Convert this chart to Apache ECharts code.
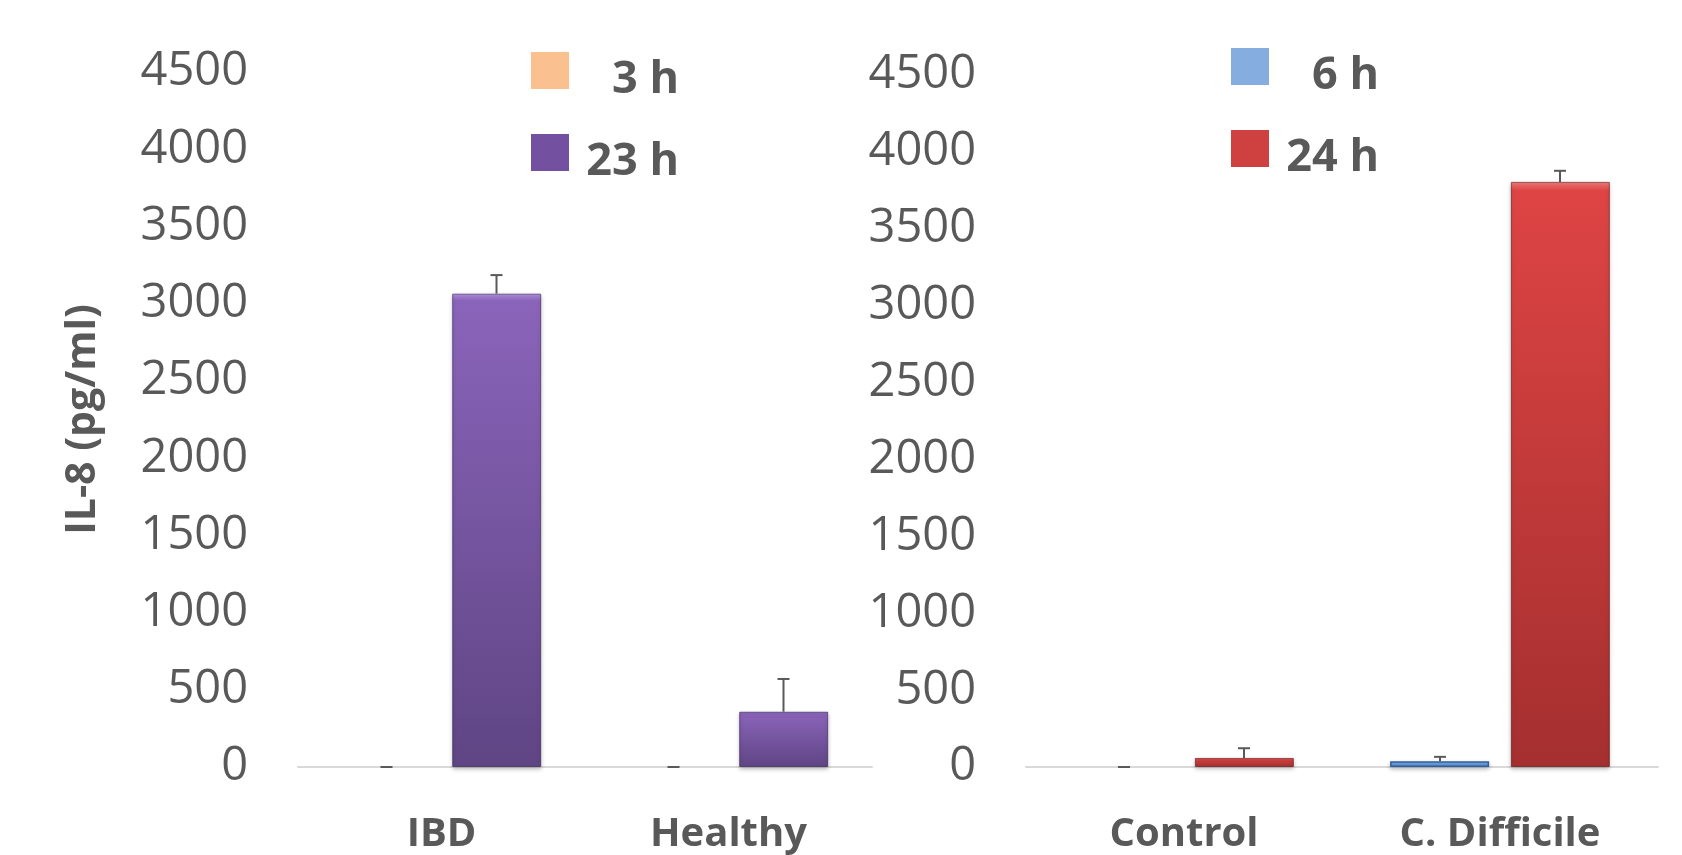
<!DOCTYPE html>
<html>
<head>
<meta charset="utf-8">
<script src="https://cdn.jsdelivr.net/npm/echarts@6/dist/echarts.min.js"></script>
<style>
  html, body { margin: 0; padding: 0; background: #ffffff; }
  #chart { width: 1682px; height: 855px; }
</style>
</head>
<body>
<div id="chart"></div>
<script>
// ---- data ----
const leftCategories = ['IBD', 'Healthy'];
const rightCategories = ['Control', 'C. Difficile'];
const leftSeriesNames = ['3 h', '23 h'];
const rightSeriesNames = ['6 h', '24 h'];
const left3h = [0, 0];
const left3hErr = [0, 0];
const left23h = [3065, 358];
const left23hErr = [120, 212];
const right6h = [0, 38];
const right6hErr = [0, 28];
const right24h = [59, 3805];
const right24hErr = [63, 72];
const yMin = 0;
const yMax = 4500;
const yInterval = 500;
const yTitle = 'IL-8 (pg/ml)';

// ---- styles ----
const textGray = '#595959';
const FONT = '"Open Sans", "DejaVu Sans", sans-serif';

function grad(top, mid, bottom) {
  return new echarts.graphic.LinearGradient(0, 0, 0, 1, [
    { offset: 0, color: top },
    { offset: 0.015, color: mid },
    { offset: 1, color: bottom }
  ]);
}

function errRender(offset) {
  return function (params, api) {
    const idx = api.value(0);
    const v = api.value(1);
    const e = api.value(2);
    const base = api.coord([idx, v]);
    const top = api.coord([idx, v + e]);
    const x = base[0] + offset;
    const style = { stroke: textGray, lineWidth: 2 };
    const children = [
      { type: 'line', shape: { x1: x - 6, y1: top[1], x2: x + 6, y2: top[1] }, style: style }
    ];
    if (e > 0) {
      children.push({ type: 'line', shape: { x1: x, y1: base[1], x2: x, y2: top[1] }, style: style });
    }
    return { type: 'group', children: children };
  };
}

function errData(vals, errs) {
  return vals.map((v, i) => [i, v, errs[i]]);
}

// zero-height bars get no outline or shadow
function barData(vals) {
  return vals.map(v => v === 0
    ? { value: v, itemStyle: { borderWidth: 0, shadowBlur: 0, opacity: 0 } }
    : v);
}

const chart = echarts.init(document.getElementById('chart'), null, { renderer: 'canvas' });

const yAxisCommon = {
  type: 'value',
  min: yMin,
  max: yMax,
  interval: yInterval,
  splitLine: { show: false },
  axisLine: { show: false },
  axisTick: { show: false },
  axisLabel: {
    fontFamily: FONT, fontSize: 47, color: textGray, margin: 50,
    formatter: v => String(v)
  }
};

const xAxisCommon = {
  type: 'category',
  axisLine: { show: true, lineStyle: { color: '#D9D9D9', width: 2 } },
  axisTick: { show: false },
  axisLabel: { fontFamily: FONT, fontSize: 40, fontWeight: 'bold', color: textGray, margin: 48 }
};

const legendText = {
  fontFamily: FONT, fontSize: 45, fontWeight: 'bold', color: textGray,
  rich: {
    t: {
      fontFamily: FONT, fontSize: 45, fontWeight: 'bold', color: textGray,
      width: 92, align: 'right', lineHeight: 48, padding: [20, 0, 0, 13]
    }
  }
};

const legendFormatter = name => '{t|' + name + '}';

const option = {
  backgroundColor: '#ffffff',
  animation: false,
  legend: [
    {
      orient: 'vertical', left: 526, top: 33,
      itemWidth: 38, itemHeight: 37, itemGap: 17,
      icon: 'rect',
      textStyle: legendText,
      formatter: legendFormatter,
      data: [
        { name: leftSeriesNames[0], itemStyle: { color: '#FAC090', borderWidth: 0 } },
        { name: leftSeriesNames[1], itemStyle: { color: '#7451A0', borderWidth: 0 } }
      ]
    },
    {
      orient: 'vertical', left: 1226, top: 29,
      itemWidth: 38, itemHeight: 37, itemGap: 17,
      icon: 'rect',
      textStyle: legendText,
      formatter: legendFormatter,
      data: [
        { name: rightSeriesNames[0], itemStyle: { color: '#86ADDF', borderWidth: 0 } },
        { name: rightSeriesNames[1], itemStyle: { color: '#CF4040', borderWidth: 0 } }
      ]
    }
  ],
  grid: [
    { left: 298, top: 72, width: 574, height: 706 },
    { left: 1026, top: 75, width: 632, height: 703 }
  ],
  xAxis: [
    Object.assign({}, xAxisCommon, { gridIndex: 0, data: leftCategories }),
    Object.assign({}, xAxisCommon, { gridIndex: 1, data: rightCategories })
  ],
  yAxis: [
    Object.assign({}, yAxisCommon, {
      gridIndex: 0,
      name: yTitle,
      nameLocation: 'middle',
      nameGap: 194,
      nameRotate: 90,
      nameTextStyle: { fontFamily: FONT, fontSize: 41, fontWeight: 'bold', color: textGray }
    }),
    Object.assign({}, yAxisCommon, { gridIndex: 1 })
  ],
  series: [
    {
      name: leftSeriesNames[0], type: 'bar', xAxisIndex: 0, yAxisIndex: 0,
      data: barData(left3h), barWidth: 89, barGap: '24%',
      itemStyle: { color: '#FAC090' }
    },
    {
      name: leftSeriesNames[1], type: 'bar', xAxisIndex: 0, yAxisIndex: 0,
      data: barData(left23h), barWidth: 89, barGap: '24%',
      itemStyle: {
        color: grad('#B18FE0', '#8A64BA', '#5F4584'),
        borderColor: 'rgba(50,30,80,0.6)', borderWidth: 1,
        shadowColor: 'rgba(0,0,0,0.25)', shadowBlur: 4, shadowOffsetY: 2
      }
    },
    {
      type: 'custom', xAxisIndex: 0, yAxisIndex: 0, z: 5,
      renderItem: errRender(-55), data: errData(left3h, left3hErr),
      encode: { x: 0, y: 1 }, silent: true
    },
    {
      type: 'custom', xAxisIndex: 0, yAxisIndex: 0, z: 5,
      renderItem: errRender(55), data: errData(left23h, left23hErr),
      encode: { x: 0, y: 1 }, silent: true
    },
    {
      name: rightSeriesNames[0], type: 'bar', xAxisIndex: 1, yAxisIndex: 1,
      data: barData(right6h), barWidth: 99, barGap: '22%',
      itemStyle: {
        color: grad('#A9CDF5', '#7EB0EA', '#5E95D6'),
        borderColor: '#2F5F9E', borderWidth: 1.5,
        shadowColor: 'rgba(0,0,0,0.25)', shadowBlur: 4, shadowOffsetY: 2
      }
    },
    {
      name: rightSeriesNames[1], type: 'bar', xAxisIndex: 1, yAxisIndex: 1,
      data: barData(right24h), barWidth: 99, barGap: '22%',
      itemStyle: {
        color: grad('#F27B7B', '#DE4444', '#A52F2F'),
        borderColor: 'rgba(90,20,20,0.6)', borderWidth: 1,
        shadowColor: 'rgba(0,0,0,0.25)', shadowBlur: 4, shadowOffsetY: 2
      }
    },
    {
      type: 'custom', xAxisIndex: 1, yAxisIndex: 1, z: 5,
      renderItem: errRender(-60), data: errData(right6h, right6hErr),
      encode: { x: 0, y: 1 }, silent: true
    },
    {
      type: 'custom', xAxisIndex: 1, yAxisIndex: 1, z: 5,
      renderItem: errRender(60), data: errData(right24h, right24hErr),
      encode: { x: 0, y: 1 }, silent: true
    }
  ]
};

chart.setOption(option);
</script>
</body>
</html>
